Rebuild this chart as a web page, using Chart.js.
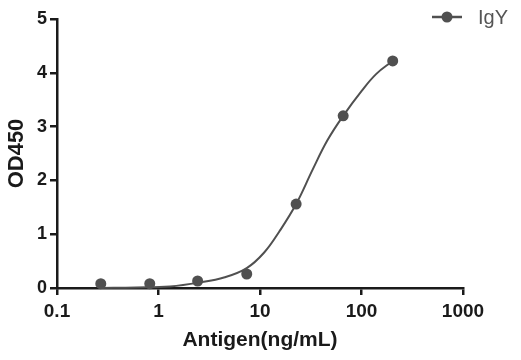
<!DOCTYPE html>
<html>
<head>
<meta charset="utf-8">
<script src="https://cdn.jsdelivr.net/npm/chart.js@4.4.1/dist/chart.umd.min.js"></script>
<style>
  html, body { margin: 0; padding: 0; background: #ffffff; }
  #wrap { width: 521px; height: 360px; }
</style>
</head>
<body>
<div id="wrap"><canvas id="c" width="521" height="360"></canvas></div>
<script>
// Measured points
const pointX = [0.27, 0.82, 2.43, 7.4, 22.7, 66, 203];
const pointY = [0.08, 0.08, 0.13, 0.26, 1.56, 3.2, 4.22];
// Fitted curve
const curveX = [0.27, 0.6, 1.3, 2.5, 4.5, 7.4, 11, 15.5, 22.7, 33, 46, 66, 100, 140, 203];
const curveY = [0.0, 0.01, 0.03, 0.1, 0.2, 0.37, 0.66, 1.05, 1.56, 2.2, 2.74, 3.2, 3.66, 3.98, 4.22];
// Axis ticks
const xTicks = [0.1, 1, 10, 100, 1000];
const yTicks = [0, 1, 2, 3, 4, 5];
const seriesName = 'IgY';
const xTitle = 'Antigen(ng/mL)';
const yTitle = 'OD450';

const ink = '#1a1a1a';
const markColor = '#505050';
const fontFam = '"Liberation Sans", Arial, Helvetica, sans-serif';

const legendPlugin = {
  id: 'customLegend',
  afterDraw(chart) {
    const ctx = chart.ctx;
    ctx.save();
    const y = 17;
    ctx.strokeStyle = markColor;
    ctx.lineWidth = 2.5;
    ctx.beginPath();
    ctx.moveTo(432, y);
    ctx.lineTo(462, y);
    ctx.stroke();
    ctx.fillStyle = markColor;
    ctx.beginPath();
    ctx.arc(447, y, 5.5, 0, Math.PI * 2);
    ctx.fill();
    ctx.fillStyle = '#555555';
    ctx.font = '20px ' + fontFam;
    ctx.textBaseline = 'middle';
    ctx.textAlign = 'left';
    ctx.fillText(chart.data.datasets[1].label, 478, y + 1);
    ctx.restore();
  }
};

new Chart(document.getElementById('c'), {
  type: 'scatter',
  data: {
    datasets: [
      {
        label: seriesName + ' fit',
        data: curveX.map((x, i) => ({ x: x, y: curveY[i] })),
        showLine: true,
        borderColor: markColor,
        borderWidth: 2,
        pointRadius: 0,
        tension: 0.4,
        fill: false,
        clip: false
      },
      {
        label: seriesName,
        data: pointX.map((x, i) => ({ x: x, y: pointY[i] })),
        showLine: false,
        backgroundColor: markColor,
        borderColor: markColor,
        pointRadius: 5.5,
        pointBorderWidth: 0,
        clip: false
      }
    ]
  },
  options: {
    responsive: false,
    animation: false,
    devicePixelRatio: 1,
    layout: { padding: { top: 19, right: 58, left: 0, bottom: 0 } },
    plugins: {
      legend: { display: false },
      tooltip: { enabled: false }
    },
    scales: {
      x: {
        type: 'logarithmic',
        min: 0.1,
        max: 1000,
        afterBuildTicks(scale) { scale.ticks = xTicks.map(v => ({ value: v })); },
        afterFit(scale) { scale.height = 72; },
        ticks: {
          autoSkip: false,
          maxRotation: 0,
          padding: 5,
          color: ink,
          font: { family: fontFam, size: 19, weight: 'bold' },
          callback: (v) => String(v)
        },
        grid: { drawOnChartArea: false, drawTicks: true, tickLength: 7, color: ink, lineWidth: 2.5 },
        border: { display: true, color: ink, width: 2.5 },
        title: {
          display: true,
          text: xTitle,
          color: ink,
          font: { family: fontFam, size: 21, weight: 'bold' },
          padding: { top: 0, bottom: 7 }
        }
      },
      y: {
        type: 'linear',
        min: 0,
        max: 5,
        afterBuildTicks(scale) { scale.ticks = yTicks.map(v => ({ value: v })); },
        afterFit(scale) { scale.width = 57; },
        ticks: {
          padding: 3,
          color: ink,
          font: { family: fontFam, size: 18, weight: 'bold' }
        },
        grid: { drawOnChartArea: false, drawTicks: true, tickLength: 7, color: ink, lineWidth: 2.5 },
        border: { display: true, color: ink, width: 2.5 },
        title: {
          display: true,
          text: yTitle,
          color: ink,
          font: { family: fontFam, size: 22, weight: 'bold' },
          padding: { top: 4, bottom: 0 }
        }
      }
    }
  },
  plugins: [legendPlugin]
});
</script>
</body>
</html>
